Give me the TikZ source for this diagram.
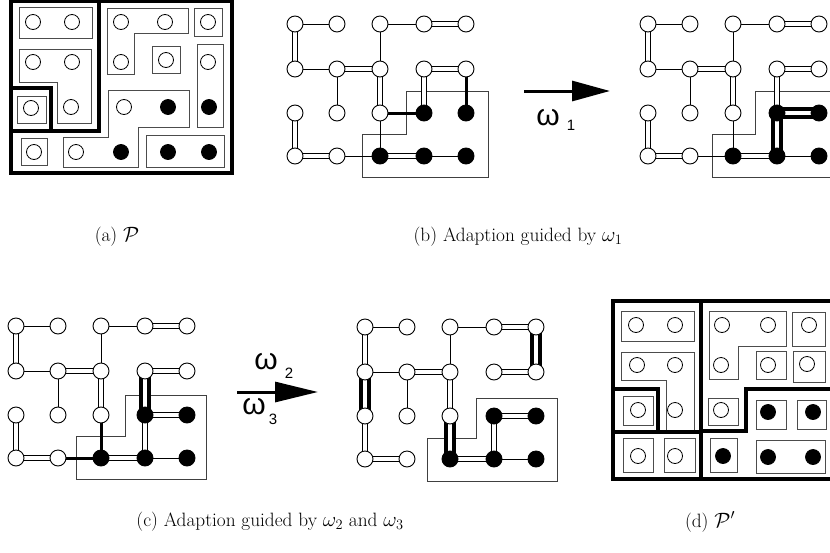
\documentclass[tikz,border=0pt]{standalone}
\usepackage{fontspec}
\newfontfamily\omfont{Liberation Sans}
\usetikzlibrary{arrows.meta}
\pgfdeclarelayer{bg}
\pgfsetlayers{bg,main}
\tikzset{
  gn0/.style={circle, draw, fill=white, line width=0.9pt, minimum size=16pt, inner sep=0pt},
  gn1/.style={gn0, fill=black},
  pc0/.style={circle, draw, fill=white, line width=0.8pt, minimum size=15pt, inner sep=0pt},
  pc1/.style={pc0, fill=black},
  thinedge/.style={line width=0.9pt},
  dbl/.style={double=white, double distance=4.5pt, line width=0.9pt},
  tkedge/.style={line width=3pt},
  tdbl/.style={double=white, double distance=4.5pt, line width=3.5pt},
  region/.style={draw=black!75, line width=0.9pt},
  cell/.style={draw=black!70, line width=0.9pt},
  heavy/.style={line width=3.5pt, line join=miter},
  bigarrow/.style={line width=3pt},
  captext/.style={font=\fontsize{19.3}{22}\selectfont, inner sep=0pt},
  omlbl/.style={font=\omfont\fontsize{30}{30}\selectfont, inner sep=0pt},
  sublbl/.style={font=\omfont\fontsize{15}{15}\selectfont, inner sep=0pt}
}
\newcommand\gridgraph[3]{%
  \foreach \r/\yy in {1/0,2/45,3/89,4/132}{%
    \foreach \c/\xx in {1/0,2/42,3/85,4/129,5/171}{%
      \pgfmathtruncatemacro\blk{and(\r==3,\c>3)+and(\r==4,\c>2)}%
      \node[gn\blk] (#1\r\c) at ({#2+\xx},{#3+\yy}) {};
    }}}
\begin{document}
\begin{tikzpicture}[x=1pt,y=-1pt]
\useasboundingbox (0,0) rectangle (830,552);

% ---------------- (a) ----------------
\draw[cell] (19,7) rectangle (92,38);
\draw[cell] (19,49) -- (91,49) -- (91,123) -- (57,123) -- (57,82) -- (19,82) -- cycle;
\draw[cell] (17,96) rectangle (46,123);
\draw[cell] (21,138) rectangle (47,165);
\draw[cell] (107,8) -- (188,8) -- (188,33) -- (134,33) -- (134,74) -- (107,74) -- cycle;
\draw[cell] (194,8) rectangle (222,36);
\draw[cell] (152,46) rectangle (180,73);
\draw[cell] (197,44) rectangle (223,127);
\draw[cell] (108,90) -- (189,90) -- (189,127) -- (138,127) -- (138,167) -- (63,167) -- (63,137) -- (108,137) -- cycle;
\draw[cell] (146,135) rectangle (224,167);
\draw[heavy] (11,1) rectangle (232,173);
\draw[heavy] (99,1) -- (99,131) -- (11,131);
\draw[heavy] (11,88) -- (51,88) -- (51,131);
\foreach \n/\x/\y/\b in {11/33/22/0,12/72/22/0,13/121/22/0,14/165/22/0,15/208/22/0,
  21/33/62/0,22/72/62/0,23/121/62/0,24/166/60/0,25/208/62/0,
  31/31/108/0,32/71/107/0,33/124/107/0,34/168/107/1,35/209/107/1,
  41/34/152/0,42/76/152/0,43/121/152/1,44/168/152/1,45/209/152/1}
  \node[pc\b] (pa\n) at (\x,\y) {};
\node[captext] (capa) at (117,237) {(a) $\mathcal{P}$};

% ---------------- (b) ----------------
\gridgraph{a}{295}{24}
\gridgraph{b}{648}{24}
\begin{pgfonlayer}{bg}
\draw[region] (406,91) -- (488,91) -- (488,177) -- (362,177) -- (362,134) -- (406,134) -- cycle;
\draw[region] (755,91) -- (845,91) -- (845,177) -- (712,177) -- (712,134) -- (755,134) -- cycle;
\foreach \p/\q in {a11/a12,a21/a22,a22/a32,a13/a23,a13/a14,a33/a43,a42/a43,a44/a45,
  b11/b12,b21/b22,b22/b32,b13/b23,b13/b14,b33/b43,b42/b43,b44/b45}
  \draw[thinedge] (\p.center) -- (\q.center);
\foreach \p/\q in {a11/a21,a22/a23,a14/a15,a23/a33,a24/a25,a24/a34,a31/a41,a41/a42,a43/a44,
  b11/b21,b22/b23,b14/b15,b23/b33,b24/b25,b24/b34,b31/b41,b41/b42,b43/b44}
  \draw[dbl] (\p.center) -- (\q.center);
\foreach \p/\q in {a25/a35,a33/a34}
  \draw[tkedge] (\p.center) -- (\q.center);
\foreach \p/\q in {b34/b35,b34/b44}
  \draw[tdbl] (\p.center) -- (\q.center);
\end{pgfonlayer}
\coordinate (ar1s) at (524,91);
\coordinate (ar1e) at (610,91);
\draw[bigarrow, -{Triangle[length=38pt,width=20pt]}] (ar1s) -- (ar1e);
\node[omlbl] (om1) at (548,118) {ω};
\node[sublbl] (om1s) at (571,125) {1};
\node[captext] (capb) at (518,237) {(b) Adaption guided by $\omega_1$};

% ---------------- (c) ----------------
\gridgraph{c}{16}{326}
\gridgraph{d}{365}{327}
\begin{pgfonlayer}{bg}
\draw[region] (125,395) -- (206,395) -- (206,479) -- (76,479) -- (76,436) -- (125,436) -- cycle;
\draw[region] (476,398) -- (557,398) -- (557,481) -- (427,481) -- (427,438) -- (476,438) -- cycle;
\foreach \p/\q in {c11/c12,c21/c22,c22/c32,c13/c23,c13/c14,c44/c45,
  d11/d12,d21/d22,d22/d32,d13/d23,d13/d14,d44/d45}
  \draw[thinedge] (\p.center) -- (\q.center);
\foreach \p/\q in {c11/c21,c22/c23,c14/c15,c23/c33,c24/c25,c34/c35,c34/c44,c31/c41,c41/c42,c43/c44,
  d11/d21,d22/d23,d14/d15,d23/d33,d24/d25,d34/d35,d34/d44,d31/d41,d41/d42,d43/d44}
  \draw[dbl] (\p.center) -- (\q.center);
\foreach \p/\q in {c33/c43,c42/c43}
  \draw[tkedge] (\p.center) -- (\q.center);
\foreach \p/\q in {c24/c34,d15/d25,d21/d31,d33/d43}
  \draw[tdbl] (\p.center) -- (\q.center);
\end{pgfonlayer}
\coordinate (ar2s) at (237,392);
\coordinate (ar2e) at (318,392);
\draw[bigarrow, -{Triangle[length=43pt,width=20pt]}] (ar2s) -- (ar2e);
\node[omlbl] (om2) at (266,362) {ω};
\node[sublbl] (om2s) at (289,373) {2};
\node[omlbl] (om3) at (254,407) {ω};
\node[sublbl] (om3s) at (273,419) {3};
\node[captext] (capc) at (270,522) {(c) Adaption guided by $\omega_2$ and $\omega_3$};

% ---------------- (d) ----------------
\draw[cell] (621,311) rectangle (694,341);
\draw[cell] (621,352) -- (694,352) -- (694,431) -- (666,431) -- (666,380) -- (621,380) -- cycle;
\draw[cell] (623,396) rectangle (653,425);
\draw[cell] (623,438) rectangle (653,472);
\draw[cell] (664,438) rectangle (695,472);
\draw[cell] (709,311) -- (786,311) -- (786,346) -- (738,346) -- (738,379) -- (709,379) -- cycle;
\draw[cell] (792,312) rectangle (825,346);
\draw[cell] (756,351) rectangle (786,379);
\draw[cell] (793,351) rectangle (825,382);
\draw[cell] (708,398) rectangle (738,425);
\draw[cell] (756,400) rectangle (786,429);
\draw[cell] (797,400) rectangle (826,429);
\draw[cell] (710,438) rectangle (737,472);
\draw[cell] (756,440) rectangle (825,473);
\draw[heavy] (613,301) rectangle (840,479);
\draw[heavy] (701,301) -- (701,479);
\draw[heavy] (613,432) -- (701,432);
\draw[heavy] (613,389) -- (658,389) -- (658,432);
\draw[heavy] (701,431) -- (746,431) -- (746,389) -- (840,389);
\foreach \n/\x/\y/\b in {11/636/325/0,12/675/325/0,13/722/325/0,14/768/325/0,15/809/325/0,
  21/637/365/0,22/675/365/0,23/721/365/0,24/768/365/0,25/807/364/0,
  31/638/410/0,32/675/410/0,33/721/410/0,34/768/412/1,35/813/412/1,
  41/638/456/0,42/675/456/0,43/723/456/1,44/768/457/1,45/813/457/1}
  \node[pc\b] (pd\n) at (\x,\y) {};
\node[captext] (capd) at (710,522) {(d) $\mathcal{P}'$};
\end{tikzpicture}
\end{document}
